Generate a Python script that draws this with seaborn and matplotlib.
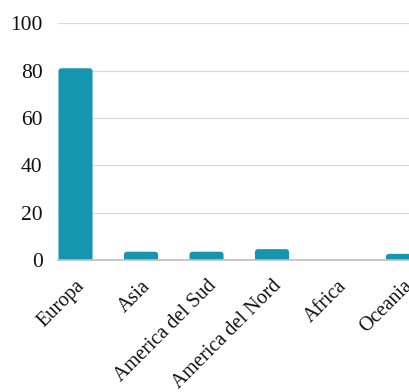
import matplotlib
matplotlib.use("Agg")
import matplotlib.pyplot as plt
from matplotlib.patches import FancyBboxPatch
import seaborn as sns
import pandas as pd

# Share of items by continent (%)
continents = ["Europa", "Asia", "America del Sud", "America del Nord", "Africa", "Oceania"]
shares = [81, 3.5, 3.5, 4.6, 0, 2.6]
y_ticks = [0, 20, 40, 60, 80, 100]

BAR_COLOR = "#1596b0"

sns.set_theme(style="white")
plt.rcParams["font.family"] = ["Liberation Serif", "DejaVu Serif"]

df = pd.DataFrame({"continent": continents, "share": shares})

fig = plt.figure(figsize=(4.10, 3.92), dpi=100)
ax = fig.add_axes([0.1415, 0.3367, 0.8585, 0.6039])

sns.barplot(data=df, x="continent", y="share", color=BAR_COLOR,
            saturation=1, width=0.52, ax=ax, zorder=3)

# Replace the square bars with ones that have softly rounded top corners
x_px = 65.5
y_px = 2.367
radius_x = 3.0 / x_px
for bar in list(ax.patches):
    x, y = bar.get_x(), bar.get_y()
    w, h = bar.get_width(), bar.get_height()
    bar.set_visible(False)
    if h <= 0:
        continue
    extra = 2.0  # push the lower rounded corners below the baseline
    rounded = FancyBboxPatch(
        (x, y - extra), w, h + extra,
        boxstyle=f"round,pad=0,rounding_size={radius_x}",
        mutation_aspect=x_px / y_px,
        facecolor=BAR_COLOR, edgecolor="none", zorder=3,
    )
    ax.add_patch(rounded)

ax.set_ylim(0, 100)
ax.set_xlim(-0.267, 5.107)
ax.set_yticks(y_ticks)
ax.set_yticklabels([str(t) for t in y_ticks])
ax.yaxis.grid(True, color="#d9d9d9", linewidth=0.9, zorder=0)
ax.set_axisbelow(True)

for side in ["left", "right", "top"]:
    ax.spines[side].set_visible(False)
ax.spines["bottom"].set_color("#bfbfbf")
ax.spines["bottom"].set_linewidth(1.2)
ax.spines["bottom"].set_zorder(4)

ax.set_xlabel("")
ax.set_ylabel("")
ax.tick_params(axis="y", length=0, pad=11, labelsize=15.5, labelcolor="#111111")
ax.tick_params(axis="x", length=0, pad=12, labelsize=14.5, labelcolor="#111111")
for lbl in ax.get_xticklabels():
    lbl.set_rotation(45)
    lbl.set_ha("right")
    lbl.set_va("top")
    lbl.set_rotation_mode("anchor")

fig.savefig("out.png", dpi=100)
